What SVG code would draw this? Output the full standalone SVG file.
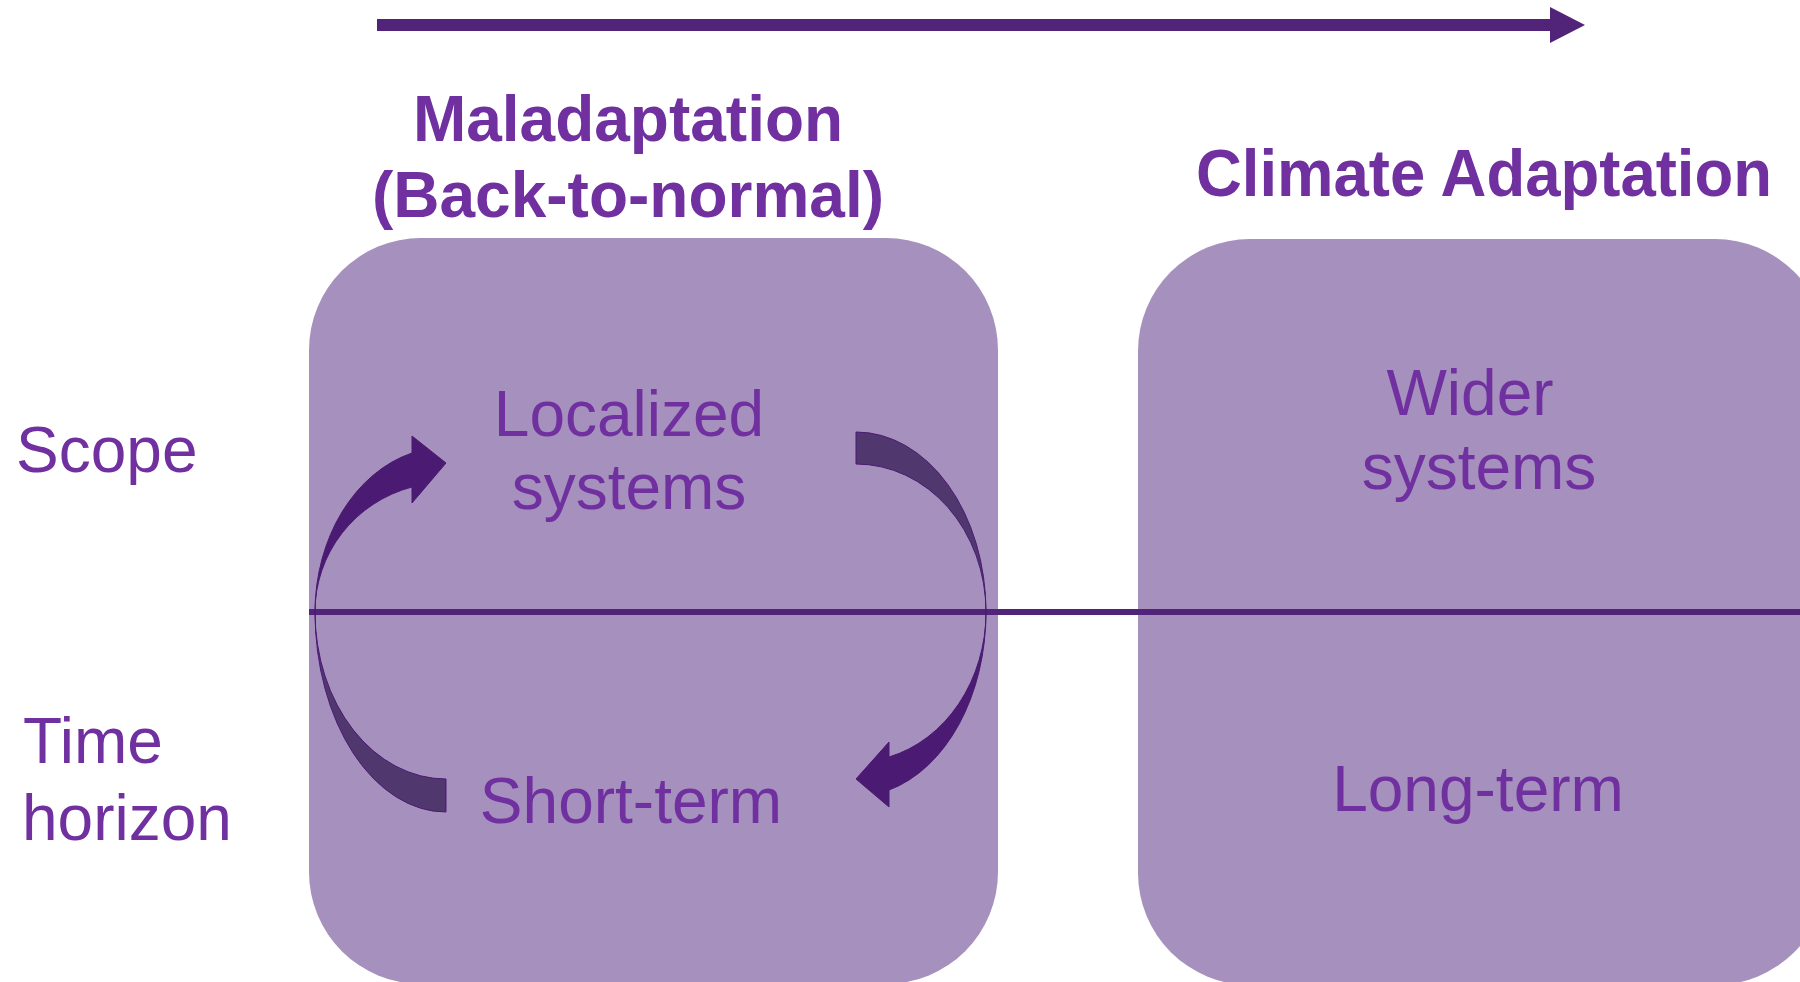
<svg xmlns="http://www.w3.org/2000/svg" width="1800" height="982" viewBox="0 0 1800 982">
<style>
.box{fill:#a690bd;}
.t{font-family:"Liberation Sans",Arial,sans-serif;fill:#7030a0;font-size:64px;}
.b{font-weight:bold;}
.line{fill:#522479;}
.arr{fill:#4b1a73;stroke:#4b1a73;stroke-width:1;}
.band{fill:#50386f;stroke:#4b1a73;stroke-width:1;}
</style>
<rect width="1800" height="982" fill="#ffffff"/>
<g id="top-arrow">
<rect class="line" x="377" y="19" width="1174" height="12"/>
<polygon class="line" points="1550,7 1585,25 1550,43"/>
</g>
<g id="title-maladaptation">
<text class="t b" x="628" y="141" text-anchor="middle">Maladaptation</text>
<text class="t b" x="628" y="217" text-anchor="middle">(Back-to-normal)</text>
</g>
<g id="title-climate">
<text class="t b" x="1196" y="196" textLength="576" lengthAdjust="spacingAndGlyphs" style="font-size:66px">Climate Adaptation</text>
</g>
<g id="row-labels">
<text class="t" x="16" y="472">Scope</text>
<text class="t" x="23" y="763">Time</text>
<text class="t" x="22" y="840">horizon</text>
</g>
<g id="node-maladaptation">
<rect class="box" x="309" y="238" width="689" height="746" rx="112" ry="112"/>
<text class="t" x="629" y="436" text-anchor="middle">Localized</text>
<text class="t" x="629" y="509" text-anchor="middle">systems</text>
<text class="t" x="631" y="823" text-anchor="middle">Short-term</text>
</g>
<g id="node-climate">
<rect class="box" x="1138" y="239" width="689" height="746" rx="112" ry="112"/>
<text class="t" x="1470" y="415" text-anchor="middle">Wider</text>
<text class="t" x="1479" y="489" text-anchor="middle">systems</text>
<text class="t" x="1478" y="811" text-anchor="middle">Long-term</text>
</g>
<g id="divider">
<rect class="line" x="309" y="609" width="1491" height="6"/>
</g>
<g id="connectors">
<path class="band" d="M315,612 A131,200 0 0 0 446,812 L446,779 A131,167 0 0 1 315,612 Z"/>
<path class="arr" d="M315,612 A131,165 0 0 1 412,453 L412,436 L446,463 L412,503 L412,487 A131,129 0 0 0 315,612 Z"/>
<path class="band" d="M856,432 A130,180 0 0 1 986,612 A130,148 0 0 0 856,464 Z"/>
<path class="arr" d="M986,612 A130,184 0 0 1 889,790 L889,807 L856,779 L889,742 L889,757 A130,150 0 0 0 986,612 Z"/>
</g>
</svg>
